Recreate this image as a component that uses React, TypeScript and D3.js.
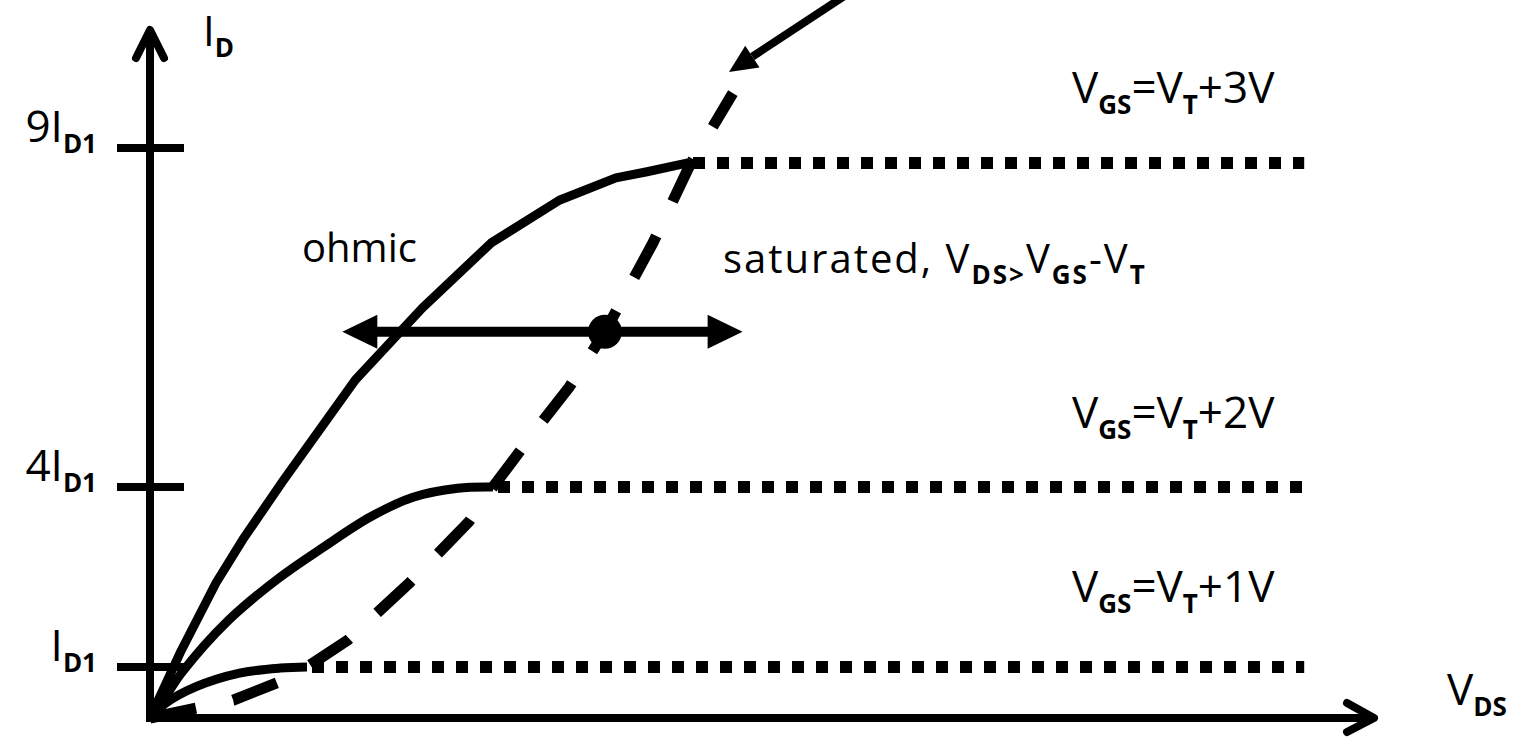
import React from "react";
import * as d3 from "d3";

type Pt = [number, number];

// V_DS in schematic units (knees at 1, 2, 3), I_D in units of I_D1
const curveVgs1: Pt[] = [[0, 0], [0.10, 0.29], [0.29, 0.61], [0.57, 0.88], [0.83, 0.98], [1.0, 1.0]];
const curveVgs2: Pt[] = [[0, 0], [0.05, 0.18], [0.20, 0.88], [0.50, 1.78], [0.83, 2.5], [1.09, 3.0], [1.34, 3.5], [1.57, 3.83], [1.81, 3.98], [2.0, 4.0]];
const curveVgs3: Pt[] = [[0, 0], [0.20, 1.28], [0.42, 2.40], [0.59, 3.12], [0.85, 4.10], [1.26, 5.58], [1.62, 6.64], [1.99, 7.60], [2.34, 8.23], [2.63, 8.56], [2.79, 8.65], [3.0, 8.78]];
const kneeVds = [1, 2, 3];
const satLevels = [1, 4, 8.78];
const satEndVds = 6.16;
const boundary: Pt[] = [[0, 0], [0.53, 0.35], [0.81, 0.69], [1, 1], [1.22, 1.45], [1.55, 2.4], [1.87, 3.42], [2, 4], [2.23, 4.88], [2.39, 5.47], [2.57, 6.27], [2.82, 7.6], [3.01, 8.75], [3.23, 9.81]];
const yTicks = [1, 4, 9];
const yTickPrefix = ["", "4", "9"];
const vgsSteps = ["1V", "2V", "3V"];
const operatingPoint: Pt = [2.574, 6.29];
const regionArrowVds: [number, number] = [1.19, 3.28];

const FONT = "'Open Sans', 'DejaVu Sans', sans-serif";

export default function App() {
  const x = d3.scaleLinear().domain([0, 1, 2, 3]).range([150, 307, 493, 688]);
  const y = d3.scaleLinear().domain([0, 1, 4, 9]).range([718, 667, 487, 148]);
  const line = d3.line<Pt>().x((d) => x(d[0])).y((d) => y(d[1]));
  const smooth = d3.line<Pt>().x((d) => x(d[0])).y((d) => y(d[1])).curve(d3.curveCatmullRom.alpha(0.5));

  const x0 = x(0), y0 = y(0);
  const xAxisEnd = 1374, yAxisEnd = 30;

  const curves = [curveVgs1, curveVgs2, curveVgs3];
  const labelY = [602, 428, 103];

  const sub = (t: string, size = 26, dy = 11) => (
    <tspan fontSize={size} dy={dy} fontWeight="bold">{t}</tspan>
  );

  const opx = x(operatingPoint[0]), opy = y(operatingPoint[1]);
  const lx = x(regionArrowVds[0]), rx = x(regionArrowVds[1]);

  // pointer arrow at top
  const tip: Pt = [729, 72];
  const tail: Pt = [852, -9];
  const dx = tip[0] - tail[0], dyv = tip[1] - tail[1];
  const L = Math.hypot(dx, dyv);
  const ux = dx / L, uy = dyv / L;
  const hb: Pt = [tip[0] - ux * 28, tip[1] - uy * 28];
  const px = -uy, py = ux;

  return (
    <svg width={1527} height={738} style={{ position: "absolute", left: 0, top: 0, background: "#fff" }} fontFamily={FONT}>
      <rect width={1527} height={738} fill="#fff" />
      {/* axes */}
      <line x1={x0} y1={y0 + 4} x2={x0} y2={yAxisEnd} stroke="#000" strokeWidth={8} />
      <polyline points={`${x0 - 14},58 ${x0},${yAxisEnd} ${x0 + 14},58`} fill="none" stroke="#000" strokeWidth={8} strokeLinecap="round" strokeLinejoin="round" />
      <line x1={x0 - 4} y1={y0} x2={xAxisEnd} y2={y0} stroke="#000" strokeWidth={8} />
      <polyline points={`1347,703 ${xAxisEnd},${y0} 1347,732`} fill="none" stroke="#000" strokeWidth={8} strokeLinecap="round" strokeLinejoin="round" />

      {/* y ticks */}
      {yTicks.map((t, i) => (
        <g key={t}>
          <line x1={117} x2={184} y1={y(t)} y2={y(t)} stroke="#000" strokeWidth={8} />
          <text x={97} y={y(t) - 6} textAnchor="end" fontSize={44}>
            {yTickPrefix[i]}I{sub("D1")}
          </text>
        </g>
      ))}

      {/* saturation dotted lines */}
      {satLevels.map((s, i) => (
        <line key={i} x1={x(kneeVds[i]) + 5} x2={x(satEndVds)} y1={y(s)} y2={y(s)} stroke="#000" strokeWidth={12} strokeDasharray="12 12" />
      ))}

      {/* boundary dashed */}
      <path d={line(boundary) || ""} fill="none" stroke="#000" strokeWidth={11} strokeDasharray="47 38" />

      {/* curves */}
      {curves.map((c, i) => (
        <path key={i} d={(i < 2 ? smooth(c) : line(c)) || ""} fill="none" stroke="#000" strokeWidth={9} strokeLinejoin="round" />
      ))}

      {/* region double arrow */}
      <line x1={lx + 30} x2={rx - 30} y1={opy} y2={opy} stroke="#000" strokeWidth={10} />
      <polygon points={`${lx},${opy} ${lx + 35},${opy - 17} ${lx + 35},${opy + 17}`} fill="#000" />
      <polygon points={`${rx},${opy} ${rx - 35},${opy - 17} ${rx - 35},${opy + 17}`} fill="#000" />
      <circle cx={opx} cy={opy} r={17} fill="#000" />

      {/* pointer arrow */}
      <line x1={tail[0]} y1={tail[1]} x2={hb[0]} y2={hb[1]} stroke="#000" strokeWidth={8} />
      <polygon points={`${tip[0]},${tip[1]} ${hb[0] + px * 13},${hb[1] + py * 13} ${hb[0] - px * 13},${hb[1] - py * 13}`} fill="#000" />

      {/* labels */}
      <text x={203} y={46} fontSize={42}>I{sub("D", 26, 11)}</text>
      <text x={1447} y={705} fontSize={44}>V{sub("DS")}</text>
      <text x={302} y={262} fontSize={40}>ohmic</text>
      <text x={723} y={273} fontSize={40} letterSpacing={2}>
        saturated, V{sub("DS")}<tspan fontSize={26} fontWeight="bold">{">"}</tspan>
        <tspan dy={-11}>V</tspan>{sub("GS")}<tspan dy={-11}>-V</tspan>{sub("T")}
      </text>
      {vgsSteps.map((s, i) => (
        <text key={s} x={1072} y={labelY[i]} fontSize={44}>
          V{sub("GS")}<tspan dy={-11}>=V</tspan>{sub("T")}<tspan dy={-11}>+{s}</tspan>
        </text>
      ))}
    </svg>
  );
}
